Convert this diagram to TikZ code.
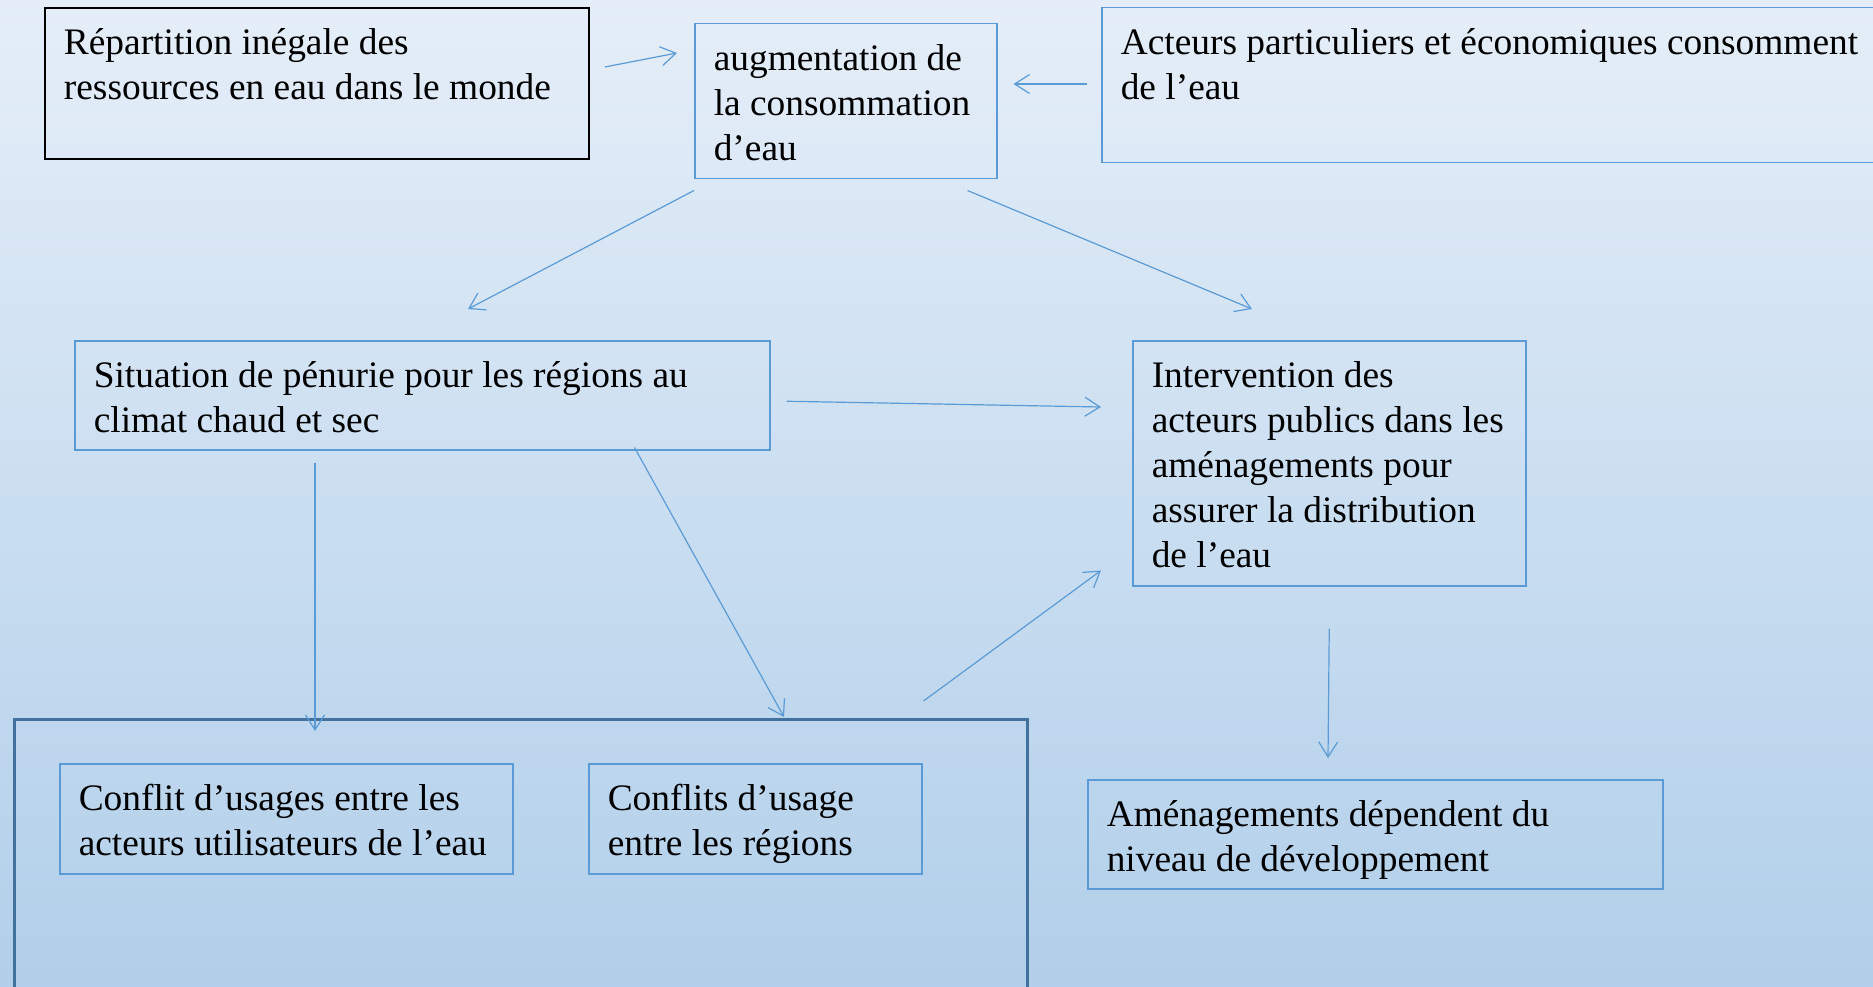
\documentclass[tikz,border=0pt]{standalone}
\usepackage{fontspec}
\setmainfont{Liberation Serif}
\usetikzlibrary{arrows.meta}
\definecolor{boxblue}{RGB}{91,155,213}
\definecolor{frameblue}{RGB}{65,113,156}
\definecolor{bgtop}{RGB}{229,238,248}
\definecolor{bgbottom}{RGB}{177,207,234}
\newcommand{\boxtext}[3]{\parbox[t][#2][t]{#1}{\raggedright\strut #3}}

\begin{document}
\begin{tikzpicture}[x=1pt,y=-1pt,
  box/.style={draw=boxblue,line width=1.5pt,anchor=north west,inner xsep=19pt,inner ysep=15pt,font=\fontsize{37.4}{45}\selectfont},
  arr/.style={boxblue,line width=1.2pt,-{Straight Barb[length=15pt,width=19pt]}}]
\useasboundingbox (0,0) rectangle (1873,987);
\shade [top color=bgtop, bottom color=bgbottom] (0,0) rectangle (1873,987);

% top row
\node (A) at (44,7) [box, draw=black, line width=1.8pt] {\boxtext{506pt}{121pt}{Répartition inégale des\\ressources en eau dans le monde}};
\node (B) at (694,23) [box] {\boxtext{264pt}{125pt}{augmentation de\\la consommation\\d’eau}};
\node (C) at (1101,7) [box] {\boxtext{756pt}{125pt}{Acteurs particuliers et économiques consomment\\de l’eau}};

% middle row
\node (D) at (74,340) [box] {\boxtext{657pt}{79pt}{Situation de pénurie pour les régions au\\climat chaud et sec}};
\node (E) at (1132,340) [box] {\boxtext{355pt}{215pt}{Intervention des\\acteurs publics dans les\\aménagements pour\\assurer la distribution\\de l’eau}};

% bottom row
\node (F) at (13,718) [draw=frameblue, line width=2.5pt, anchor=north west, minimum width=1013pt, minimum height=300pt] {};
\node (G) at (59,763) [box] {\boxtext{415pt}{80pt}{Conflit d’usages entre les\\acteurs utilisateurs de l’eau}};
\node (H) at (588,763) [box] {\boxtext{295pt}{80pt}{Conflits d’usage\\entre les régions}};
\node (I) at (1087,779) [box] {\boxtext{537pt}{79pt}{Aménagements dépendent du\\niveau de développement}};

\draw [arr] ([shift={(15,60)}]A.north east) -- ([shift={(-17,30)}]B.north west);
\draw [arr] ([shift={(-14,77)}]C.north west) -- ([shift={(16,61)}]B.north east);
\draw [arr] ([shift={(0,11)}]B.south west) -- ([shift={(394,-31)}]D.north west);
\draw [arr] ([shift={(-30,11)}]B.south east) -- ([shift={(120,-31)}]E.north west);
\draw [arr] ([shift={(16,6)}]D.east) -- ([shift={(-31,67)}]E.north west);
\draw [arr] ([shift={(241,12)}]D.south west) -- ([shift={(256,-32)}]G.north west);
\draw [arr] ([shift={(-136,-3)}]D.south east) -- ([shift={(771,-1)}]F.north west);
\draw [arr] ([shift={(-105,-17)}]F.north east) -- ([shift={(-31,-16)}]E.south west);
\draw [arr] ([shift={(0,42)}]E.south) -- ([shift={(241,-21)}]I.north west);
\end{tikzpicture}
\end{document}
